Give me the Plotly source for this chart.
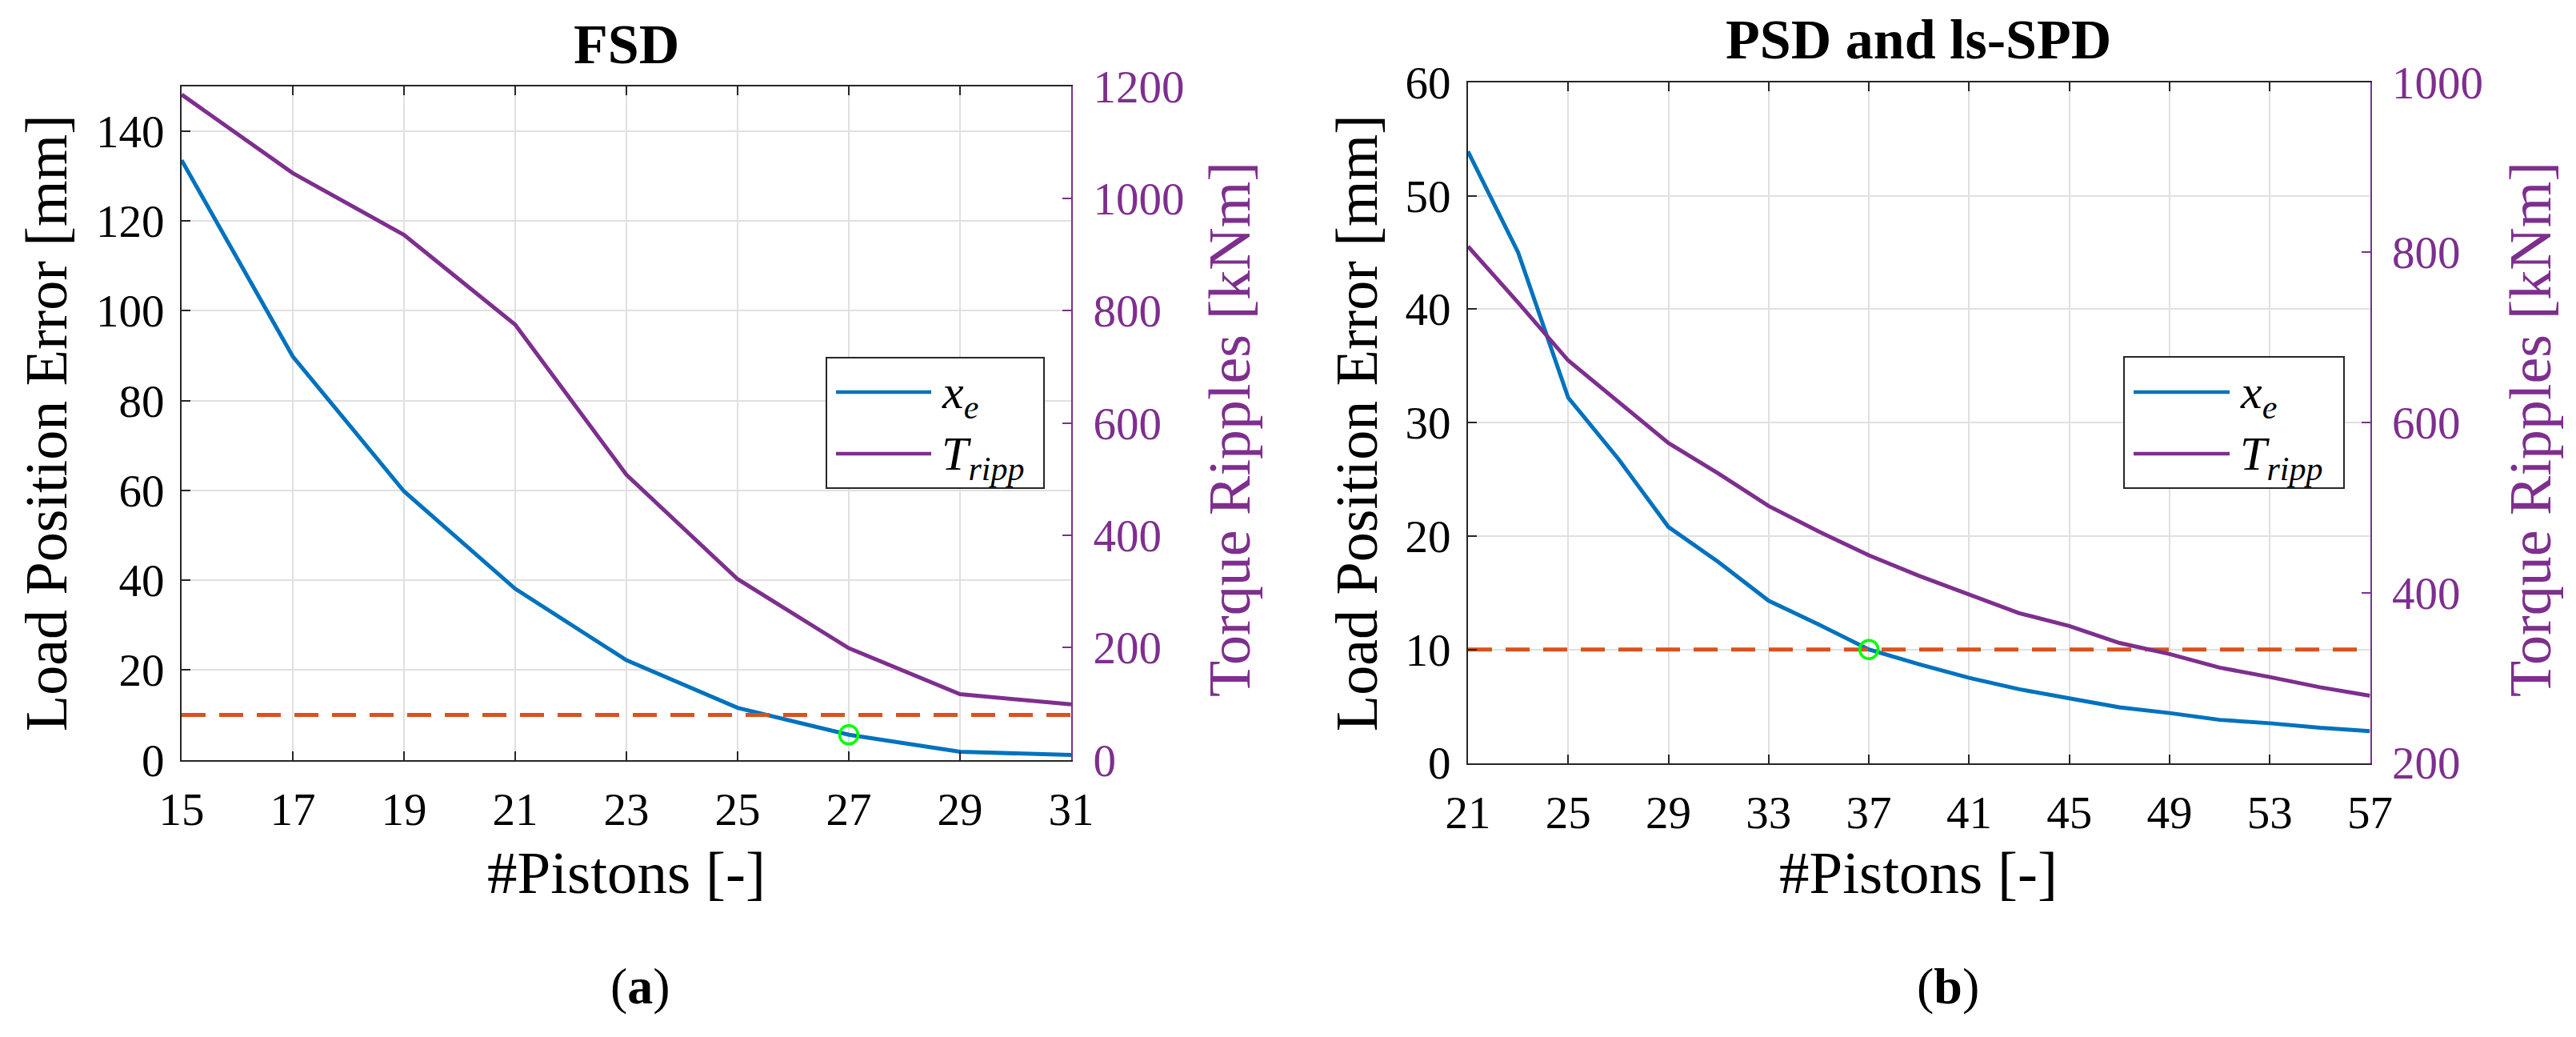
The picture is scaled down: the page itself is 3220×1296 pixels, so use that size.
import plotly.graph_objects as go

W, H = 3220, 1296

# ---------------- data ----------------
pistons_fsd = [15, 17, 19, 21, 23, 25, 27, 29, 31]
xe_fsd = [133.5, 89.8, 59.8, 38.1, 22.2, 11.6, 5.6, 1.8, 1.1]
tripp_fsd = [1185, 1045, 935, 775, 508, 322, 199, 117, 99]

pistons_psd = [21, 23, 25, 27, 29, 31, 33, 35, 37, 39, 41, 43, 45, 47, 49, 51, 53, 55, 57]
xe_psd = [53.9, 45.0, 32.2, 26.8, 20.8, 17.7, 14.3, 12.2, 10.0, 8.7, 7.5, 6.5, 5.7, 4.9,
          4.4, 3.8, 3.5, 3.1, 2.8]
tripp_psd = [807, 741, 673, 625, 576, 540, 502, 472, 444, 420, 398, 376, 361, 341,
             328, 312, 301, 289, 279]

threshold = 10
selected_fsd = 27
selected_psd = 37

xticks_fsd = [15, 17, 19, 21, 23, 25, 27, 29, 31]
yticks_fsd = [0, 20, 40, 60, 80, 100, 120, 140]
y2ticks_fsd = [0, 200, 400, 600, 800, 1000, 1200]
xticks_psd = [21, 25, 29, 33, 37, 41, 45, 49, 53, 57]
yticks_psd = [0, 10, 20, 30, 40, 50, 60]
y2ticks_psd = [200, 400, 600, 800, 1000]

titles = ["FSD", "PSD and ls-SPD"]
subcaptions = ["a", "b"]
ylabel = "Load Position Error [mm]"
y2label = "Torque Ripples [kNm]"
xlabel = "#Pistons [-]"
legend_names = ["<i>x</i><sub><i>e</i></sub>", "<i>T</i><sub><i>ripp</i></sub>"]

# ---------------- style ----------------
BLUE = "#0072BD"
PURPLE = "#7E2F8E"
ORANGE = "#D95319"
GREEN = "#00FF00"
AX = "#262626"
GRID = "#E0E0E0"
FONT = "Liberation Serif"


def px(x):
    return x / W


def py(y):
    return 1 - y / H


# plot-area boxes in pixels (left, top, right, bottom)
box_a = (227, 107.6, 1339, 949.7)
box_b = (1835, 102.8, 2962.5, 953.5)

fig = go.Figure()

sel_idx_fsd = pistons_fsd.index(selected_fsd)
sel_idx_psd = pistons_psd.index(selected_psd)
LW = 5

# left panel
fig.add_trace(go.Scatter(x=pistons_fsd, y=xe_fsd, xaxis="x", yaxis="y", mode="lines",
                         line=dict(color=BLUE, width=LW), showlegend=False))
fig.add_trace(go.Scatter(x=[pistons_fsd[0], pistons_fsd[-1]], y=[threshold, threshold],
                         xaxis="x", yaxis="y", mode="lines",
                         line=dict(color=ORANGE, width=5, dash="30px,17px"), showlegend=False))
fig.add_trace(go.Scatter(x=[selected_fsd], y=[xe_fsd[sel_idx_fsd]], xaxis="x", yaxis="y",
                         mode="markers",
                         marker=dict(symbol="circle-open", size=23, color=GREEN,
                                     line=dict(color=GREEN, width=3.5)), showlegend=False))
fig.add_trace(go.Scatter(x=pistons_fsd, y=tripp_fsd, xaxis="x", yaxis="y2", mode="lines",
                         line=dict(color=PURPLE, width=LW), showlegend=False))

# right panel
fig.add_trace(go.Scatter(x=pistons_psd, y=xe_psd, xaxis="x2", yaxis="y3", mode="lines",
                         line=dict(color=BLUE, width=LW), showlegend=False))
fig.add_trace(go.Scatter(x=[pistons_psd[0], pistons_psd[-1]], y=[threshold, threshold],
                         xaxis="x2", yaxis="y3", mode="lines",
                         line=dict(color=ORANGE, width=5, dash="30px,17px"), showlegend=False))
fig.add_trace(go.Scatter(x=[selected_psd], y=[xe_psd[sel_idx_psd]], xaxis="x2", yaxis="y3",
                         mode="markers",
                         marker=dict(symbol="circle-open", size=23, color=GREEN,
                                     line=dict(color=GREEN, width=3.5)), showlegend=False))
fig.add_trace(go.Scatter(x=pistons_psd, y=tripp_psd, xaxis="x2", yaxis="y4", mode="lines",
                         line=dict(color=PURPLE, width=LW), showlegend=False))

common = dict(showline=True, linecolor=AX, linewidth=2, ticks="inside", ticklen=11,
              tickwidth=2, tickcolor=AX, showgrid=True, gridcolor=GRID, gridwidth=2,
              zeroline=False, automargin=False,
              tickfont=dict(family=FONT, size=57, color="black"))
right_common = dict(showline=True, linecolor=PURPLE, linewidth=2, ticks="inside", ticklen=11,
                    tickwidth=2, tickcolor=PURPLE, showgrid=False, zeroline=False,
                    automargin=False, side="right", ticklabelstandoff=14,
                    tickfont=dict(family=FONT, size=57, color=PURPLE))


def dom_x(b):
    return [px(b[0]), px(b[2])]


def dom_y(b):
    return [py(b[3]), py(b[1])]


fig.update_layout(
    width=W, height=H, autosize=False,
    margin=dict(l=0, r=0, t=0, b=0, autoexpand=False),
    paper_bgcolor="white", plot_bgcolor="white",
    showlegend=False,
    font=dict(family=FONT),
    xaxis=dict(domain=dom_x(box_a), anchor="y", range=[xticks_fsd[0], xticks_fsd[-1]],
               tickvals=xticks_fsd, mirror="ticks", ticklabelstandoff=11, **common),
    yaxis=dict(domain=dom_y(box_a), anchor="x", range=[0, 150], tickvals=yticks_fsd,
               ticklabelstandoff=8, **common),
    yaxis2=dict(overlaying="y", anchor="x", range=[0, 1200], tickvals=y2ticks_fsd, **right_common),
    xaxis2=dict(domain=dom_x(box_b), anchor="y3", range=[xticks_psd[0], xticks_psd[-1]],
                tickvals=xticks_psd, mirror="ticks", ticklabelstandoff=11, **common),
    yaxis3=dict(domain=dom_y(box_b), anchor="x2", range=[0, 60], tickvals=yticks_psd,
                ticklabelstandoff=8, **common),
    yaxis4=dict(overlaying="y3", anchor="x2", range=[200, 1000], tickvals=y2ticks_psd,
                **right_common),
)

ann = []


def text(x, y, s, size, color="black", angle=0, xanchor="center", yanchor="middle"):
    ann.append(dict(x=px(x), y=py(y), xref="paper", yref="paper", text=s, showarrow=False,
                    textangle=angle, xanchor=xanchor, yanchor=yanchor,
                    font=dict(family=FONT, size=size, color=color)))


# titles
text(783, 56, "<b>%s</b>" % titles[0], 70)
text(2398, 50, "<b>%s</b>" % titles[1], 70)
# y labels
text(58, 529, ylabel, 74, angle=-90)
text(1696, 529, ylabel, 74, angle=-90)
text(1537, 537, y2label, 74, color=PURPLE, angle=-90)
text(3163, 537, y2label, 74, color=PURPLE, angle=-90)
# x labels
text(783, 1090, xlabel, 75)
text(2398, 1090, xlabel, 75)
# sub captions
text(800, 1232, "(<b>%s</b>)" % subcaptions[0], 64)
text(2435, 1232, "(<b>%s</b>)" % subcaptions[1], 64)

shapes = []
# legends (boxes + samples)
for (bx0, by0, bx1, by1, lx0, lx1, tx) in [(1033, 447, 1305, 610, 1045, 1164, 1175),
                                            (2655, 446, 2930, 610, 2667, 2787, 2798)]:
    shapes.append(dict(type="rect", xref="paper", yref="paper", x0=px(bx0), x1=px(bx1),
                       y0=py(by1), y1=py(by0), line=dict(color=AX, width=2),
                       fillcolor="white", layer="above"))
    for yy, col, name in [(490, BLUE, legend_names[0]), (567, PURPLE, legend_names[1])]:
        shapes.append(dict(type="line", xref="paper", yref="paper", x0=px(lx0), x1=px(lx1),
                           y0=py(yy), y1=py(yy), line=dict(color=col, width=4.7),
                           layer="above"))
        text(tx, yy + 4, name, 60, xanchor="left")

fig.update_layout(annotations=ann, shapes=shapes)

fig.write_html("out.html")
